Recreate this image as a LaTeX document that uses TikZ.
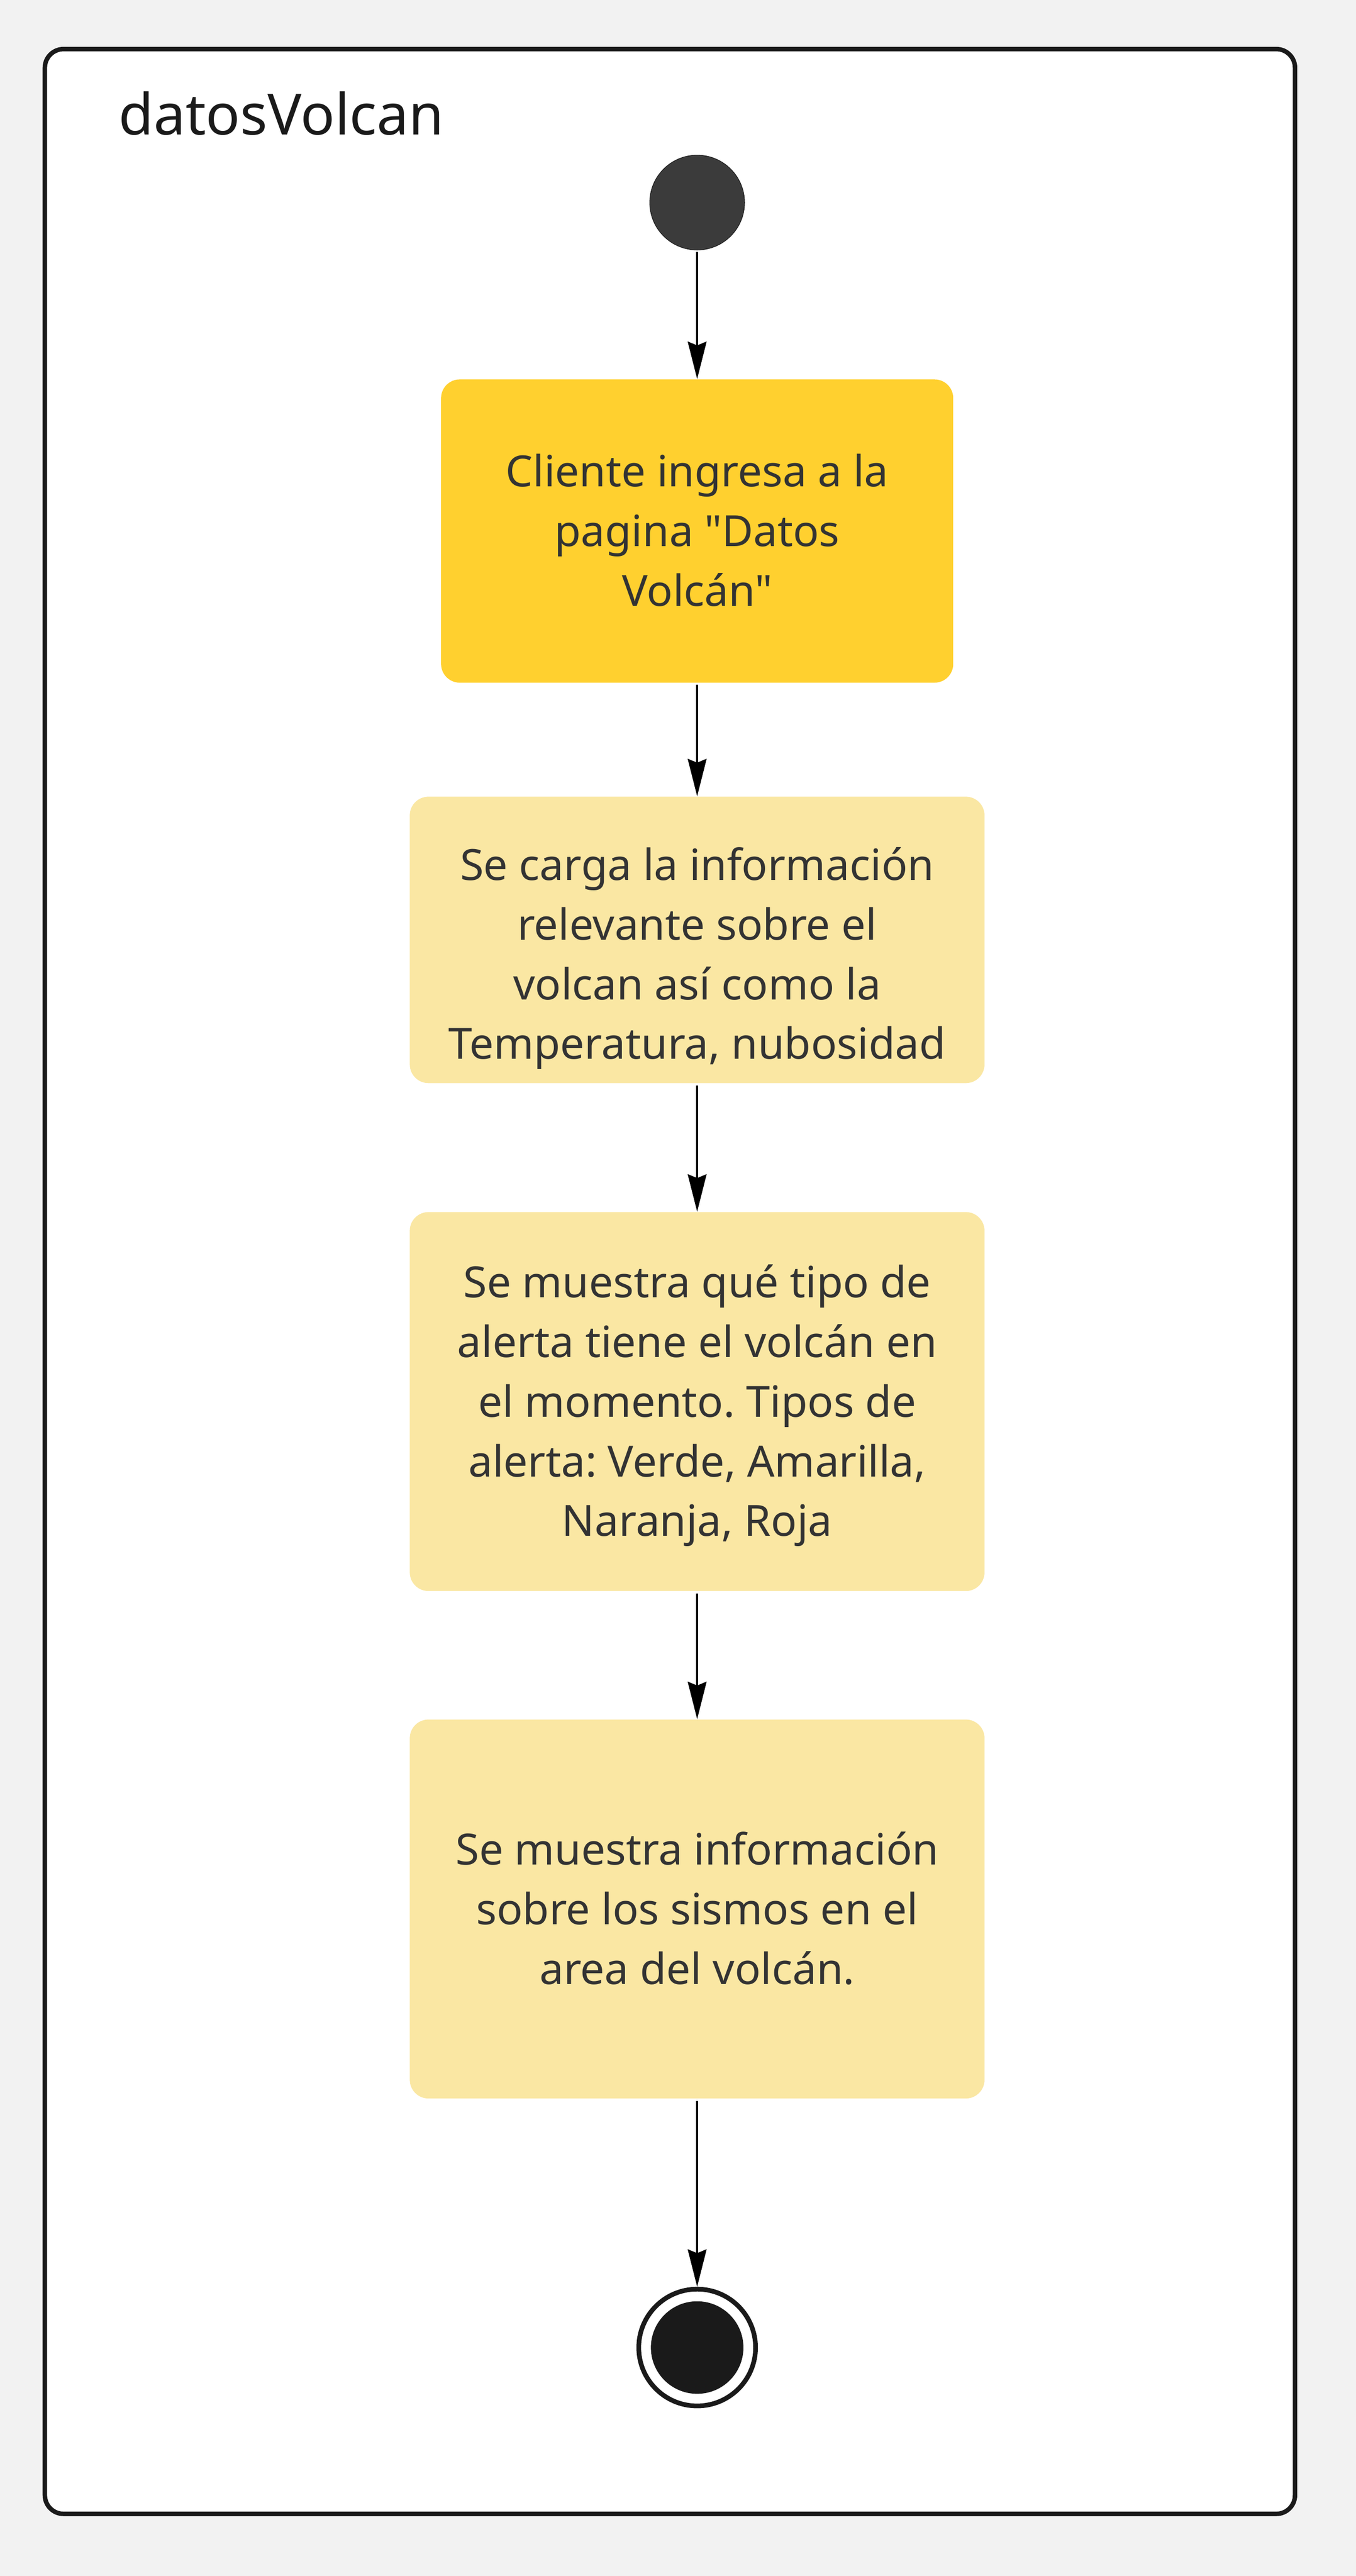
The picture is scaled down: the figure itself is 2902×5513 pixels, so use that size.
\documentclass[tikz,border=0pt]{standalone}
\usepackage{fontspec}
\setmainfont{Noto Sans}[Ligatures=TeXOff]
\usepackage{xcolor}
\usepackage{tikz}
\usetikzlibrary{arrows.meta}
\definecolor{fondo}{HTML}{F2F2F2}
\definecolor{marco}{HTML}{1A1A1A}
\definecolor{amarillo}{HTML}{FFD02F}
\definecolor{crema}{HTML}{FAE7A3}
\definecolor{gristexto}{HTML}{333333}
\definecolor{inicial}{HTML}{3B3B3B}
\newcommand{\lin}{\rule[-8.5pt]{0pt}{33.5pt}}
\frenchspacing

\begin{document}
\begin{tikzpicture}[x=0.25pt,y=-0.25pt,
	actividad/.style={rounded corners=10pt,inner sep=0pt,align=center,text=gristexto,
		font=\fontsize{23}{31.9}\selectfont,execute at begin node=\lin},
	flecha/.style={-{Stealth[length=20pt,width=10pt,inset=2pt]},line width=1.1pt,shorten <=1pt}]
	\fill[fondo] (0,0) rectangle (2902,5513);
	\draw[marco,fill=white,line width=2.4pt,rounded corners=10pt] (96,105) rectangle (2771.5,5380);
	\node[anchor=base west,text=marco,font=\fontsize{30.4}{40}\selectfont] (titulo) at (240,288) {datosVolcan};
	
	\node[circle,fill=inicial,draw=marco,line width=0.3pt,minimum size=50.75pt,inner sep=0pt] (inicio) at (1492,433.5) {};
	\node[actividad,fill=amarillo,minimum width=274pt,minimum height=162.25pt] (b1) at (1492,1136.5) {\lin Cliente ingresa a la\\pagina "Datos\\Volcán"};
	\node[actividad,fill=crema,minimum width=307.5pt,minimum height=153.25pt] (b2) at (1492,2011.5) {\rule{0pt}{40.5pt}Se carga la información\\relevante sobre el\\volcan así como la\\Temperatura, nubosidad};
	\node[actividad,fill=crema,minimum width=307.5pt,minimum height=202.75pt] (b3) at (1492,2999.5) {\lin Se muestra qué tipo de\\alerta tiene el volcán en\\el momento. Tipos de\\alerta: Verde, Amarilla,\\Naranja, Roja};
	\node[actividad,fill=crema,minimum width=307.5pt,minimum height=202.75pt] (b4) at (1492,4085.5) {\lin Se muestra información\\sobre los sismos en el\\area del volcán.};
	\node[circle,draw=marco,fill=white,line width=2.5pt,minimum size=62.5pt,inner sep=0pt] (fin) at (1492,5024) {};
	\node[circle,fill=marco,minimum size=49.5pt,inner sep=0pt] (finc) at (fin) {};
	
	\draw[flecha] (inicio) -- (b1);
	\draw[flecha] (b1) -- (b2);
	\draw[flecha] (b2) -- (b3);
	\draw[flecha] (b3) -- (b4);
	\draw[flecha] (b4) -- (fin);
\end{tikzpicture}
\end{document}
